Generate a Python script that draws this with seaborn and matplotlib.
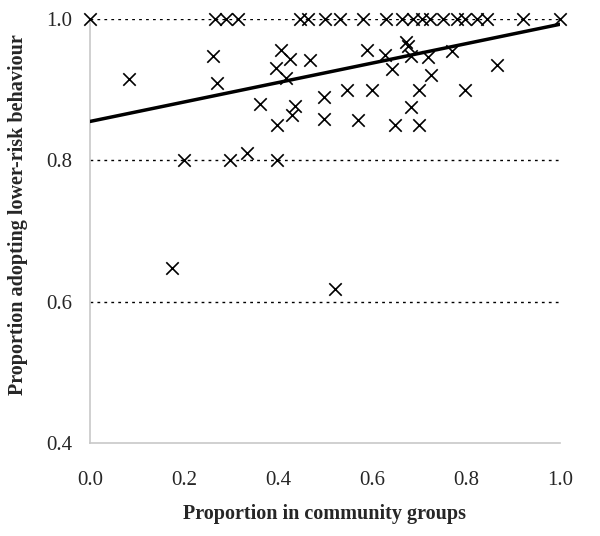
import numpy as np
import pandas as pd
import matplotlib
matplotlib.use("Agg")
import matplotlib.pyplot as plt
import seaborn as sns

# points sitting on 1.0
top_x = [0.0, 0.266, 0.289, 0.315, 0.447, 0.464, 0.5, 0.532, 0.581, 0.63,
         0.664, 0.687, 0.706, 0.723, 0.751, 0.781, 0.798, 0.823, 0.845,
         0.921, 1.0]
# the rest
other_x = [0.084, 0.262, 0.271, 0.174, 0.521, 0.2, 0.298, 0.333, 0.397,
           0.362, 0.397, 0.429, 0.436, 0.396, 0.406, 0.425, 0.418, 0.468,
           0.497, 0.498, 0.546, 0.57, 0.59, 0.599, 0.628, 0.642, 0.648,
           0.672, 0.677, 0.682, 0.684, 0.7, 0.7, 0.72, 0.726, 0.771, 0.797,
           0.865]
other_y = [0.915, 0.948, 0.909, 0.648, 0.618, 0.8, 0.8, 0.81, 0.8,
           0.879, 0.85, 0.864, 0.877, 0.93, 0.956, 0.943, 0.917, 0.942,
           0.89, 0.858, 0.9, 0.857, 0.956, 0.9, 0.949, 0.929, 0.85,
           0.968, 0.962, 0.948, 0.875, 0.9, 0.85, 0.946, 0.921, 0.955, 0.9,
           0.935]

# linear trend
trend_intercept = 0.855
trend_slope = 0.1375

x_ticks = [0.0, 0.2, 0.4, 0.6, 0.8, 1.0]
y_ticks = [0.4, 0.6, 0.8, 1.0]

df = pd.DataFrame({
    "group": top_x + other_x,
    "lower_risk": [1.0] * len(top_x) + other_y,
})

sns.set_style("white")
plt.rcParams["font.family"] = ["Liberation Serif", "DejaVu Serif"]

fig = plt.figure(figsize=(6.0, 5.36), dpi=100)
ax = fig.add_axes([0.15, 0.1735, 0.7833, 0.7911])

for yv in [0.6, 0.8, 1.0]:
    ax.axhline(yv, color="black", lw=1.0, ls=(0, (2, 3)), zorder=1)

xs = np.array([0.0, 1.0])
ax.plot(xs, trend_intercept + trend_slope * xs, color="black", lw=2.5, zorder=3)

sns.scatterplot(data=df, x="group", y="lower_risk", marker="x", color="black",
                s=80, linewidth=1.2, ax=ax, zorder=4, clip_on=False)

ax.set_xlim(0, 1.0)
ax.set_ylim(0.4, 1.0)
ax.set_xticks(x_ticks)
ax.set_yticks(y_ticks)
ax.set_xticklabels([f"{v:.1f}" for v in x_ticks], fontsize=15)
ax.set_yticklabels([f"{v:.1f}" for v in y_ticks], fontsize=15)
ax.tick_params(axis="both", direction="out", length=5, width=1,
               color="#c8c8c8")
ax.tick_params(axis="x", pad=15)
ax.tick_params(axis="y", pad=8)

for side in ["top", "right"]:
    ax.spines[side].set_visible(False)
for side in ["left", "bottom"]:
    ax.spines[side].set_color("#c8c8c8")
    ax.spines[side].set_linewidth(1.2)

ax.set_xlabel("Proportion in community groups", fontsize=14.5,
              fontweight="bold", labelpad=10)
ax.set_ylabel("Proportion adopting lower-risk behaviour", fontsize=14.5,
              fontweight="bold")
ax.yaxis.set_label_coords(-0.132, 0.538)

fig.savefig("out.png", dpi=100)
